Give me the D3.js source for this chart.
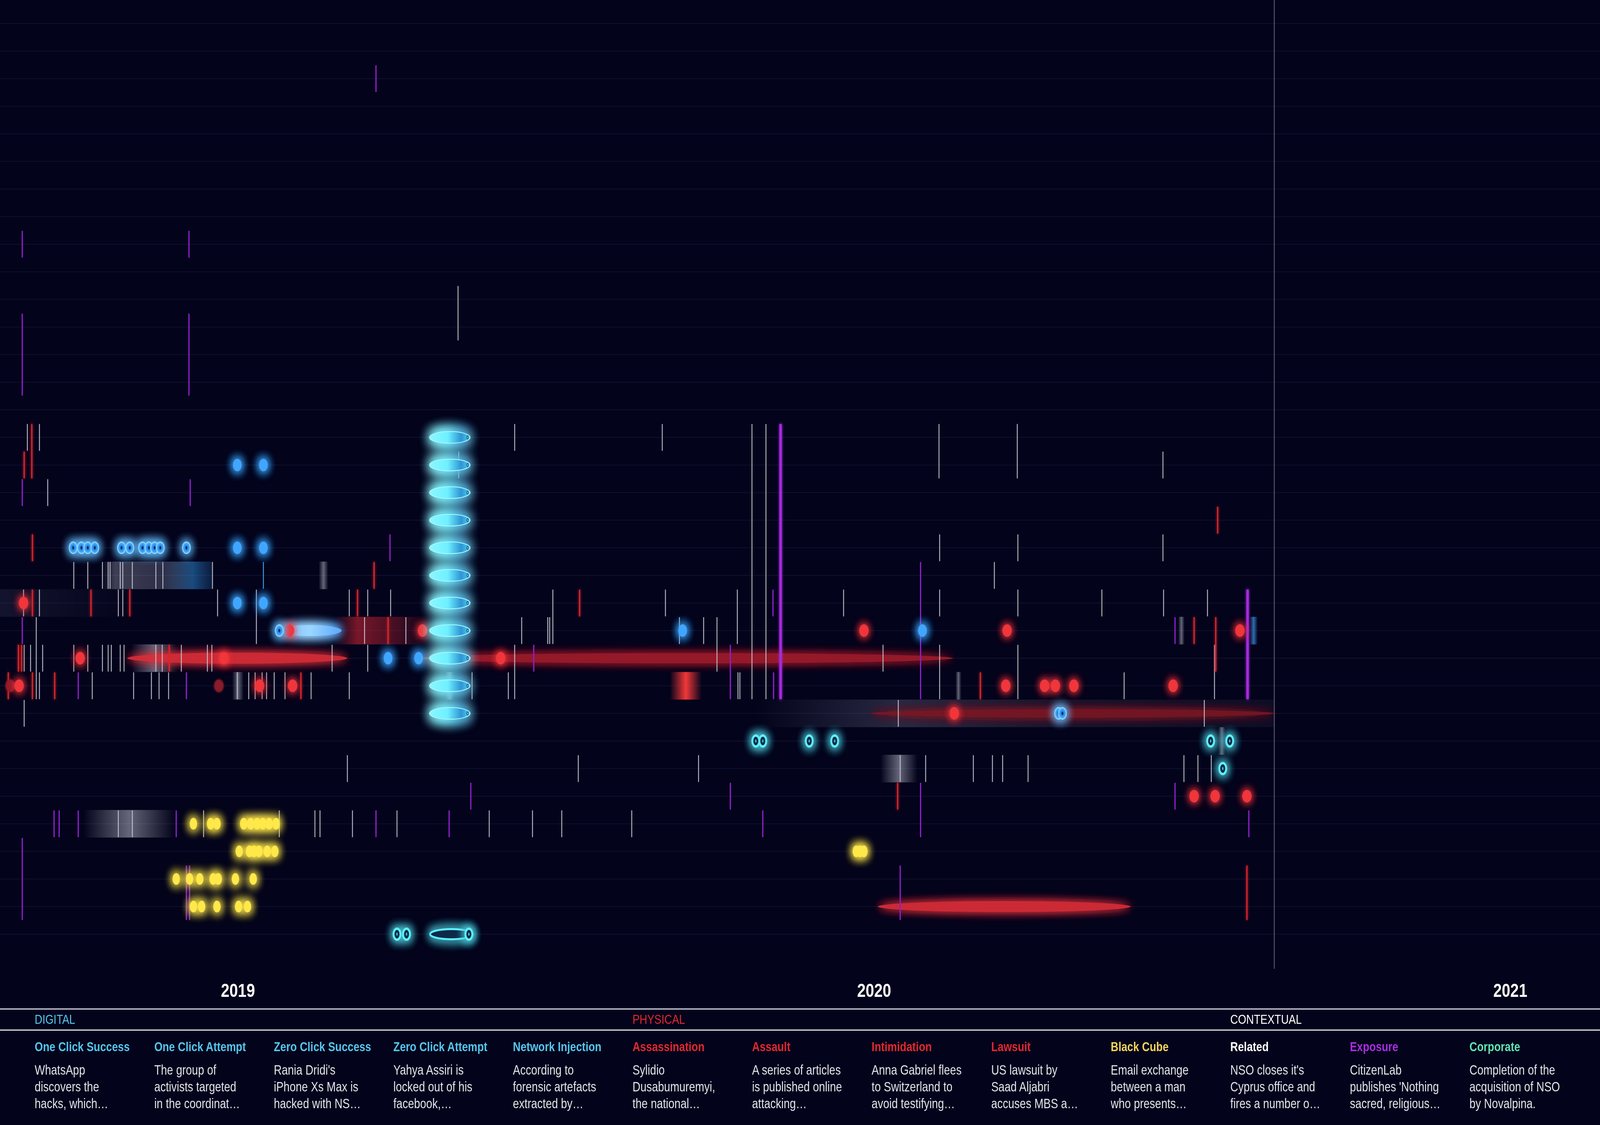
<!DOCTYPE html>
<html><head><meta charset="utf-8">
<script src="https://cdn.jsdelivr.net/npm/d3@7"></script>
<style>html,body{margin:0;padding:0;background:#03031b;overflow:hidden;}svg{display:block;width:100vw;height:100vh;}</style>
</head><body>
<svg id="chart" viewBox="0 0 5120 2880" preserveAspectRatio="none"></svg>
<script>
// ---------------- DATA ----------------
const rowCount = 34;
const yearTicks = [2019, 2020, 2021];
const todayYear = 2020.629;

// vertical event lines: [year, fromRow, toRow]
const relatedLines = [
 [2019.346,10,11],
 [2018.669,15,15],[2018.688,15,15],[2019.435,15,15],[2019.667,15,15],[2019.808,15,24],[2019.830,15,24],[2020.102,15,16],[2020.225,15,16],
 [2019.347,16,16],[2020.454,16,16],
 [2018.701,17,17],
 [2020.103,19,19],[2020.226,19,19],[2020.454,19,19],
 [2018.742,20,20],[2018.764,20,20],[2018.787,20,20],[2018.796,20,20],[2018.799,20,20],[2018.815,20,20],[2018.819,20,20],[2018.834,20,20],[2018.871,20,20],[2018.882,20,20],[2018.960,20,20],[2020.189,20,20],
 [2018.663,21,21],[2018.688,21,21],[2018.812,21,21],[2018.819,21,21],[2018.968,21,21],[2019.029,21,22],[2019.175,21,21],[2019.204,21,21],[2019.240,21,21],[2019.495,21,22],[2019.672,21,21],[2019.785,21,22],[2019.952,21,21],[2020.103,21,21],[2020.226,21,21],[2020.358,21,21],[2020.455,21,21],[2020.524,21,21],
 [2018.683,22,24],[2019.199,22,22],[2019.264,22,22],[2019.446,22,22],[2019.487,22,22],[2019.490,22,22],[2019.694,22,22],[2019.732,22,22],[2019.753,22,23],
 [2018.664,23,23],[2018.674,23,23],[2018.693,23,23],[2018.742,23,23],[2018.764,23,23],[2018.787,23,23],[2018.796,23,23],[2018.801,23,23],[2018.815,23,23],[2018.821,23,23],[2018.871,23,23],[2018.881,23,23],[2018.911,23,23],[2018.952,23,23],[2018.959,23,23],[2019.148,23,23],[2019.204,23,23],[2019.435,23,24],[2020.014,23,23],[2020.103,23,24],[2020.226,23,24],[2020.535,23,24],
 [2018.688,24,24],[2018.771,24,24],[2018.836,24,24],[2018.864,24,24],[2018.876,24,24],[2018.891,24,24],[2018.999,24,24],[2019.017,24,24],[2019.027,24,24],[2019.038,24,24],[2019.045,24,24],[2019.057,24,24],[2019.074,24,24],[2019.115,24,24],[2019.175,24,24],[2019.368,24,24],[2019.425,24,24],[2019.786,24,24],[2019.789,24,24],[2020.393,24,24],
 [2018.664,25,25],[2020.038,25,25],[2020.519,25,25],
 [2019.172,27,27],[2019.535,27,27],[2019.724,27,27],[2020.041,27,27],[2020.081,27,27],[2020.156,27,27],[2020.186,27,27],[2020.202,27,27],[2020.242,27,27],[2020.487,27,27],[2020.509,27,27],[2020.530,27,27],
 [2018.812,29,29],[2018.834,29,29],[2018.946,29,29],[2019.065,29,29],[2019.121,29,29],[2019.129,29,29],[2019.180,29,29],[2019.250,29,29],[2019.395,29,29],[2019.463,29,29],[2019.509,29,29],[2019.619,29,29]
];
const exposureLines = [
 [2019.217,2,2],[2018.661,8,8],[2018.923,8,8],[2018.661,11,13],[2018.923,11,13],
 [2018.661,17,17],[2018.925,17,17],[2019.239,19,19],[2020.073,20,24],[2019.841,21,21],
 [2018.661,22,22],[2020.473,22,22],[2019.465,23,23],[2019.774,23,24],[2018.749,24,24],[2018.919,24,24],[2019.842,24,24],
 [2019.366,28,28],[2019.774,28,28],[2020.073,28,29],[2020.473,28,28],
 [2018.711,29,29],[2018.719,29,29],[2018.749,29,29],[2018.903,29,29],[2019.217,29,29],[2019.332,29,29],[2019.825,29,29],[2020.589,29,29],
 [2018.661,30,32],[2018.919,31,32],[2018.924,31,32],[2020.041,31,32]
];
const exposureMajorLines = [[2019.853,15,24],[2020.587,21,24]];
const physicalLines = [
 [2018.676,15,16],[2018.664,16,16],[2020.540,18,18],[2018.677,19,19],[2019.214,20,20],
 [2018.677,21,21],[2018.769,21,21],[2018.830,21,21],[2019.188,21,21],[2019.537,21,21],
 [2019.236,22,22],[2020.503,22,22],[2020.537,22,23],
 [2018.655,23,23],[2018.660,23,23],[2018.892,23,23],
 [2018.639,24,24],[2018.677,24,24],[2018.712,24,24],[2019.099,24,24],[2020.167,24,24],
 [2020.037,28,28],[2020.586,31,32]
];
const digitalLines = [[2019.040,20,20]];

// point events: [year, row]
const oneClickSuccessDots = [[2018.999,16],[2019.040,16],[2018.999,19],[2019.040,19],[2018.999,21],[2019.040,21],[2019.699,22],[2020.076,22],[2019.236,23],[2019.284,23]];
const oneClickAttemptRings = [[2018.741,19],[2018.754,19],[2018.764,19],[2018.775,19],[2018.817,19],[2018.830,19],[2018.850,19],[2018.860,19],[2018.869,19],[2018.878,19],[2018.919,19],[2019.065,22],[2020.290,25],[2020.296,25]];
const zeroClickAttemptRings = [[2019.814,26],[2019.825,26],[2019.898,26],[2019.938,26],[2020.529,26],[2020.559,26],[2020.548,27],[2019.250,33],[2019.265,33],[2019.363,33]];
const physicalDots = [[2018.663,21],[2019.081,22],[2019.290,22],[2019.984,22],[2020.209,22],[2020.575,22],[2018.752,23],[2018.978,23],[2019.413,23],[2018.656,24],[2019.034,24],[2019.086,24],[2020.207,24],[2020.268,24],[2020.285,24],[2020.314,24],[2020.470,24],[2020.126,25],[2020.503,28],[2020.536,28],[2020.586,28]];
const physicalFadedDots = [[2018.642,24],[2018.970,24]];
const blackCubeDots = [
 [2018.930,29],[2018.957,29],[2018.967,29],[2019.009,29],[2019.020,29],[2019.030,29],[2019.039,29],[2019.049,29],[2019.060,29],
 [2019.002,30],[2019.018,30],[2019.025,30],[2019.033,30],[2019.046,30],[2019.058,30],[2019.972,30],[2019.978,30],[2019.984,30],
 [2018.903,31],[2018.924,31],[2018.940,31],[2018.961,31],[2018.969,31],[2018.996,31],[2019.024,31],
 [2018.930,32],[2018.943,32],[2018.967,32],[2019.001,32],[2019.015,32]
];

// duration events: [startYear, endYear, row]
const zeroClickSuccessSpans = [15,16,17,18,19,20,21,22,23,24,25].map(r => [2019.301, 2019.365, r]);
const zeroClickAttemptSpans = [[2019.302, 2019.369, 33]];
const oneClickSuccessSpans = [[2019.064, 2019.163, 22]];
const physicalSpans = [[2018.826, 2019.172, 23],[2020.006, 2020.403, 32]];
const physicalOngoingSpans = [[2019.286, 2020.124, 23]];
const physicalFadedSpans = [[2019.995, 2020.629, 25]];

// soft clusters of related material: [startYear, endYear, row, tone]
const clusterBands = [
 [2018.786, 2018.960, 20, 'greyBlue'],[2019.127, 2019.142, 20, 'grey'],
 [2018.626, 2018.840, 21, 'fadeLeft'],
 [2019.152, 2019.298, 22, 'red'],[2020.478, 2020.488, 22, 'grey'],[2020.590, 2020.603, 22, 'blue'],
 [2018.832, 2018.905, 23, 'grey'],
 [2018.991, 2019.009, 24, 'grey'],[2019.326, 2019.340, 24, 'grey'],[2019.679, 2019.729, 24, 'redGlow'],[2020.128, 2020.137, 24, 'grey'],
 [2019.814, 2020.629, 25, 'fade'],
 [2020.541, 2020.552, 26, 'grey'],
 [2020.010, 2020.068, 27, 'grey'],
 [2018.757, 2018.900, 29, 'grey']
];

// legend
const groupHeaders = [['DIGITAL',0,'digital'],['PHYSICAL',5,'physical'],['CONTEXTUAL',10,'related']];
const legendTitles = ['One Click Success','One Click Attempt','Zero Click Success','Zero Click Attempt','Network Injection','Assassination','Assault','Intimidation','Lawsuit','Black Cube','Related','Exposure','Corporate'];
const legendKinds = ['digital','digital','digital','digital','digital','physical','physical','physical','physical','blackcube','related','exposure','corporate'];
const legendDescriptions = [
 ['WhatsApp','discovers the','hacks, which…'],
 ['The group of','activists targeted','in the coordinat…'],
 ["Rania Dridi's",'iPhone Xs Max is','hacked with NS…'],
 ['Yahya Assiri is','locked out of his','facebook,…'],
 ['According to','forensic artefacts','extracted by…'],
 ['Sylidio','Dusabumuremyi,','the national…'],
 ['A series of articles','is published online','attacking…'],
 ['Anna Gabriel flees','to Switzerland to','avoid testifying…'],
 ['US lawsuit by','Saad Aljabri','accuses MBS a…'],
 ['Email exchange','between a man','who presents…'],
 ["NSO closes it's",'Cyprus office and','fires a number o…'],
 ['CitizenLab',"publishes 'Nothing",'sacred, religious…'],
 ['Completion of the','acquisition of NSO','by Novalpina.']
];

// ---------------- DRAW ----------------
const W = 5120, H = 2880, chartBottom = 2480;
const svg = d3.select('#chart');
const x = d3.scaleLinear().domain([2018.626, 2021.141]).range([0, W]);
const y = d3.scaleLinear().domain([0, rowCount - 1]).range([60, 60 + 70.65 * (rowCount - 1)]);
const half = (y(1) - y(0)) / 2;
const legendX = d3.scaleLinear().domain([0, legendTitles.length - 1]).range([111, 111 + 382.6 * (legendTitles.length - 1)]);
const kindColor = {digital:'#55c6ee', physical:'#e3282e', blackcube:'#f3d45c', related:'#ffffff', exposure:'#a92ee2', corporate:'#62e4b3'};

svg.append('rect').attr('width', W).attr('height', H).attr('fill', '#03031b');
const defs = svg.append('defs');
function glow(id, sd, strength) {
  const f = defs.append('filter').attr('id', id).attr('x', '-60%').attr('y', '-200%').attr('width', '220%').attr('height', '500%');
  f.append('feGaussianBlur').attr('in', 'SourceGraphic').attr('stdDeviation', sd).attr('result', 'b');
  const m = f.append('feMerge');
  for (let i = 0; i < strength; i++) m.append('feMergeNode').attr('in', 'b');
  m.append('feMergeNode').attr('in', 'SourceGraphic');
}
glow('glowS', 4, 1);
glow('glowM', 12, 2);
glow('glowD', 14, 3);
glow('glowL', 18, 4);

const toneStops = {
  grey: [[0,'#c8c8d8',0],[0.5,'#c8c8d8',0.5],[1,'#c8c8d8',0]],
  greyBlue: [[0,'#c8c8d8',0],[0.12,'#c8c8d8',0.3],[0.55,'#9aa0bb',0.28],[0.82,'#2a86d0',0.55],[1,'#2a76c0',0.2]],
  red: [[0,'#d42a36',0],[0.25,'#c82434',0.6],[0.7,'#b0202e',0.35],[1,'#b0202e',0]],
  redGlow: [[0,'#ff3a3a',0],[0.5,'#ff3a3a',0.95],[1,'#ff3a3a',0]],
  fade: [[0,'#8a8aa8',0],[0.28,'#8a8aa8',0.28],[0.6,'#7a7a98',0.15],[1,'#6a6a88',0.1]],
  fadeLeft: [[0,'#6a6a90',0.16],[1,'#6a6a90',0]],
  blue: [[0,'#3c90e0',0],[0.5,'#3c90e0',0.75],[1,'#3c90e0',0]]
};
Object.entries(toneStops).forEach(([k, stops]) => {
  const g = defs.append('linearGradient').attr('id', 'tone-' + k);
  stops.forEach(s => g.append('stop').attr('offset', s[0]).attr('stop-color', s[1]).attr('stop-opacity', s[2]));
});
const cyanGrad = defs.append('linearGradient').attr('id', 'cyanFill');
[[0,'#8af7ff'],[0.45,'#6ff0ff'],[0.78,'#2d95d4'],[0.95,'#4cc4f0'],[1,'#9ff6ff']].forEach(s => cyanGrad.append('stop').attr('offset', s[0]).attr('stop-color', s[1]));
const blueSpanGrad = defs.append('linearGradient').attr('id', 'blueSpanFill');
[[0,'#7fc4ff'],[0.5,'#9ad6ff'],[1,'#5aa8ff']].forEach(s => blueSpanGrad.append('stop').attr('offset', s[0]).attr('stop-color', s[1]));
const ringGrad = defs.append('radialGradient').attr('id', 'ringFill');
[[0,'#0c3a78'],[0.35,'#2a86e0'],[0.75,'#45aaff'],[1,'#8ad8ff']].forEach(s => ringGrad.append('stop').attr('offset', s[0]).attr('stop-color', s[1]));

// row grid
svg.append('g').selectAll('line').data(d3.range(rowCount)).join('line')
  .attr('x1', 0).attr('x2', W).attr('y1', d => y(d)).attr('y2', d => y(d))
  .attr('stroke', '#111130').attr('stroke-width', 2);

// cluster bands
svg.append('g').selectAll('rect').data(clusterBands).join('rect')
  .attr('x', d => x(d[0])).attr('width', d => x(d[1]) - x(d[0]))
  .attr('y', d => y(d[2]) - half).attr('height', half * 2)
  .attr('fill', d => 'url(#tone-' + d[3] + ')');

// physical duration spans
svg.append('g').selectAll('ellipse').data(physicalFadedSpans).join('ellipse')
  .attr('cx', d => x((d[0] + d[1]) / 2)).attr('rx', d => (x(d[1]) - x(d[0])) / 2)
  .attr('cy', d => y(d[2])).attr('ry', 11).attr('fill', '#7c1424').attr('opacity', 0.9).attr('filter', 'url(#glowM)');
svg.append('g').selectAll('ellipse').data(physicalOngoingSpans).join('ellipse')
  .attr('cx', d => x((d[0] + d[1]) / 2)).attr('rx', d => (x(d[1]) - x(d[0])) / 2)
  .attr('cy', d => y(d[2])).attr('ry', 13).attr('fill', '#a41f2c').attr('opacity', 0.9).attr('filter', 'url(#glowM)');
svg.append('g').selectAll('ellipse').data(physicalSpans).join('ellipse')
  .attr('cx', d => x((d[0] + d[1]) / 2)).attr('rx', d => (x(d[1]) - x(d[0])) / 2)
  .attr('cy', d => y(d[2])).attr('ry', 14).attr('fill', '#dc2f37').attr('opacity', 0.92).attr('filter', 'url(#glowM)');

// vertical lines
function drawLines(data, color, width, filter, opacity) {
  const g = svg.append('g');
  g.selectAll('line').data(data).join('line')
    .attr('x1', d => x(d[0])).attr('x2', d => x(d[0]))
    .attr('y1', d => y(d[1]) - half + 1).attr('y2', d => y(d[2]) + half - 1)
    .attr('stroke', color).attr('stroke-width', width).attr('opacity', opacity);
  if (filter) g.attr('filter', filter);
}
drawLines(relatedLines, '#c4c4d4', 3, null, 0.9);
drawLines(exposureLines, '#8d1fcc', 4, null, 1);
drawLines(exposureMajorLines, '#a62cdf', 8, 'url(#glowS)', 1);
drawLines(physicalLines, '#dc262b', 4, 'url(#glowS)', 1);
drawLines(digitalLines, '#3a9ee6', 3, null, 1);

// one click success span
svg.append('g').attr('filter', 'url(#glowD)').selectAll('ellipse').data(oneClickSuccessSpans).join('ellipse')
  .attr('cx', d => x((d[0] + d[1]) / 2)).attr('rx', d => (x(d[1]) - x(d[0])) / 2)
  .attr('cy', d => y(d[2])).attr('ry', 14).attr('fill', 'url(#blueSpanFill)');

// dots
function drawDots(data, color, rx, ry, filter, opacity) {
  svg.append('g').attr('filter', filter).selectAll('ellipse').data(data).join('ellipse')
    .attr('cx', d => x(d[0])).attr('cy', d => y(d[1])).attr('rx', rx).attr('ry', ry)
    .attr('fill', color).attr('opacity', opacity);
}
drawDots(physicalFadedDots, '#8e1e2a', 15, 16, 'url(#glowS)', 0.8);
drawDots(physicalDots, '#f0343a', 15, 16, 'url(#glowM)', 1);
drawDots(oneClickSuccessDots, '#3fa6ff', 14, 16, 'url(#glowD)', 1);
drawDots(blackCubeDots, '#ffe84a', 12, 15, 'url(#glowD)', 1);

// one click attempt rings
const oca = svg.append('g').attr('filter', 'url(#glowD)').selectAll('g').data(oneClickAttemptRings).join('g')
  .attr('transform', d => `translate(${x(d[0])},${y(d[1])})`);
oca.append('ellipse').attr('rx', 13).attr('ry', 15).attr('fill', 'url(#ringFill)').attr('stroke', '#8edcff').attr('stroke-width', 2);
oca.append('ellipse').attr('rx', 2).attr('ry', 4).attr('fill', '#081c40');

// zero click success ellipses
const zcs = svg.append('g').attr('filter', 'url(#glowL)').selectAll('g').data(zeroClickSuccessSpans).join('g');
zcs.append('ellipse').attr('cx', d => x((d[0] + d[1]) / 2)).attr('rx', d => (x(d[1]) - x(d[0])) / 2)
  .attr('cy', d => y(d[2])).attr('ry', 15).attr('fill', 'url(#cyanFill)').attr('stroke', '#a8faff').attr('stroke-width', 2);
zcs.append('ellipse').attr('cx', d => x(d[1]) - 8).attr('cy', d => y(d[2])).attr('rx', 3).attr('ry', 4)
  .attr('fill', 'none').attr('stroke', '#0d3050').attr('stroke-width', 1.5);

// zero click attempt outline ellipse
const zca = svg.append('g').attr('filter', 'url(#glowD)').selectAll('g').data(zeroClickAttemptSpans).join('g');
zca.append('ellipse').attr('cx', d => x((d[0] + d[1]) / 2)).attr('rx', d => (x(d[1]) - x(d[0])) / 2)
  .attr('cy', d => y(d[2])).attr('ry', 13).attr('fill', '#0b2c48').attr('stroke', '#5ff0ff').attr('stroke-width', 5);

// zero click attempt rings
const zr = svg.append('g').attr('filter', 'url(#glowD)').selectAll('g').data(zeroClickAttemptRings).join('g')
  .attr('transform', d => `translate(${x(d[0])},${y(d[1])})`);
zr.append('ellipse').attr('rx', 11).attr('ry', 14).attr('fill', '#0a2a40').attr('stroke', '#5ff0ff').attr('stroke-width', 6);
zr.append('ellipse').attr('rx', 2.5).attr('ry', 4).attr('fill', '#3fb8d8');

// today line
svg.append('line').attr('x1', x(todayYear)).attr('x2', x(todayYear)).attr('y1', 0).attr('y2', chartBottom)
  .attr('stroke', '#55566a').attr('stroke-width', 3);

// ---------------- AXIS / LEGEND ----------------
const font = "'Liberation Sans', Arial, Helvetica, sans-serif";
svg.append('g').selectAll('text').data(yearTicks).join('text')
  .attr('x', d => x(d)).attr('y', 2552).attr('text-anchor', 'middle')
  .attr('font-family', font).attr('font-size', 49).attr('font-weight', 'bold').attr('fill', '#ffffff')
  .text(d => d);

svg.append('line').attr('x1', 0).attr('x2', W).attr('y1', 2583).attr('y2', 2583).attr('stroke', '#a8a8b8').attr('stroke-width', 4);
svg.append('line').attr('x1', 0).attr('x2', W).attr('y1', 2637).attr('y2', 2637).attr('stroke', '#e6e6ee').attr('stroke-width', 3);

svg.append('g').selectAll('text').data(groupHeaders).join('text')
  .attr('x', d => legendX(d[1])).attr('y', 2621)
  .attr('font-family', font).attr('font-size', 34).attr('fill', d => kindColor[d[2]])
  .text(d => d[0]);

const items = svg.append('g').selectAll('g').data(legendTitles).join('g')
  .attr('transform', (d, i) => `translate(${legendX(i)},0)`);
items.append('text').attr('y', 2691).attr('font-family', font).attr('font-size', 34).attr('font-weight', 600)
  .attr('fill', (d, i) => kindColor[legendKinds[i]]).text(d => d);
items.each(function(d, i) {
  d3.select(this).selectAll('text.desc').data(legendDescriptions[i]).join('text').attr('class', 'desc')
    .attr('y', (t, j) => 2751 + j * 43).attr('font-family', font).attr('font-size', 35).attr('fill', '#e4e4ec')
    .text(t => t);
});
</script>
</body></html>
